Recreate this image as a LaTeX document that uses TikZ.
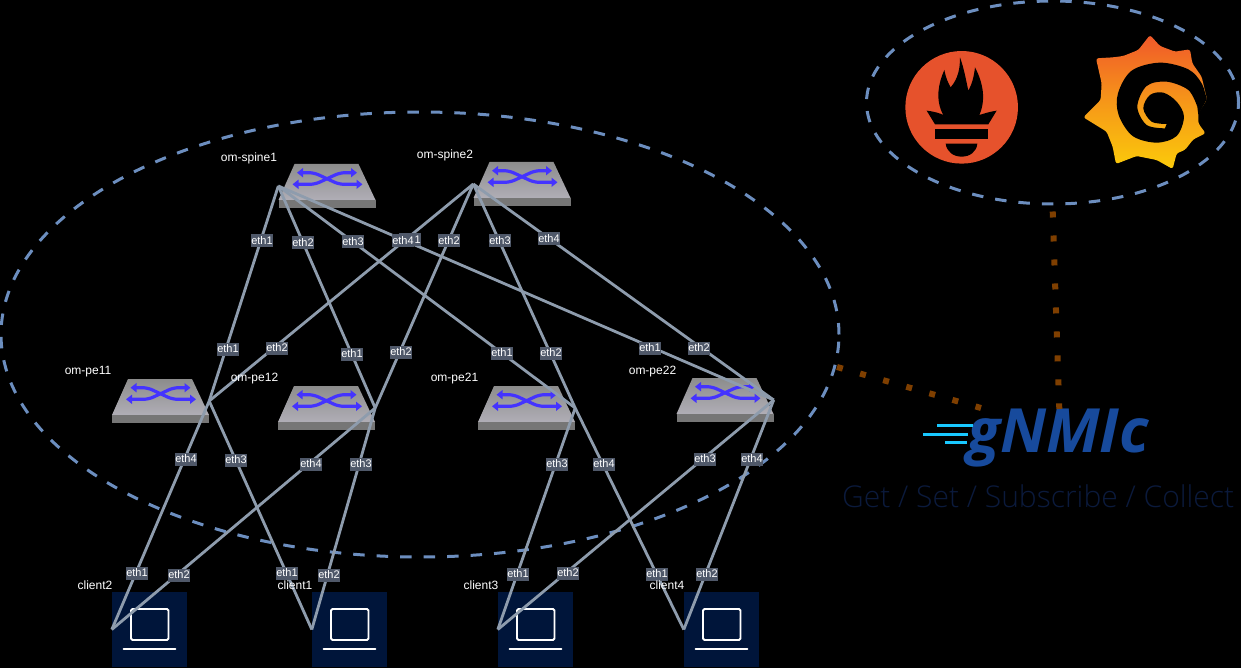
\documentclass[tikz,border=0pt]{standalone}
\usepackage{fontspec}
\setmainfont{Liberation Sans}
\newfontfamily\logofont{Open Sans}
\newfontfamily\tagfont{Open Sans Light}
\usetikzlibrary{shapes.geometric,arrows.meta}
\definecolor{dashblue}{HTML}{6C8EBF}
\definecolor{linkgrey}{HTML}{8E9CAD}
\definecolor{portbg}{HTML}{4F5869}
\definecolor{navy}{HTML}{00153A}
\definecolor{dotbrown}{HTML}{7F3F00}
\definecolor{swblue}{HTML}{4433FF}
\definecolor{promred}{HTML}{E6522C}
\definecolor{gnblue}{HTML}{174A9C}
\definecolor{gncyan}{HTML}{19C8FF}
\definecolor{tagnavy}{HTML}{0B1A3C}
\definecolor{graftop}{HTML}{F0582A}
\definecolor{grafbot}{HTML}{FBCB0A}
\definecolor{swtop}{HTML}{8C8C8C}
\definecolor{swbot}{HTML}{B0AEB6}
\definecolor{swfront}{HTML}{767676}
\tikzset{
  x=1pt,y=-1pt,
  zone/.style={draw=dashblue,line width=3pt,dash pattern=on 11.5pt off 12pt,ellipse,inner sep=0pt},
  link/.style={draw=linkgrey,line width=2.8pt},
  dots/.style={draw=dotbrown,line width=6pt,dash pattern=on 6pt off 18pt},
  portlabel/.style={fill=portbg,text=white,inner sep=0pt,minimum width=21pt,minimum height=13pt,font=\fontsize{11}{12}\selectfont},
  devname/.style={text=white,inner sep=0pt,font=\fontsize{12}{14}\selectfont},
  swnode/.style={minimum width=97pt,minimum height=44pt,inner sep=0pt},
  clnode/.style={fill=navy,minimum size=75pt,inner sep=0pt},
  swarrow/.style={draw=swblue,line width=3.2pt,rounded corners=5pt,{Triangle[length=6pt,width=9pt]}-{Triangle[length=6pt,width=9pt]}},
  laptop/.style={draw=white,line width=1.8pt}
}
\newcommand{\switchbox}[3]{%
  \node[swnode] (#1) at (#2,#3) {};
  \begin{scope}[shift={(#2,#3)}]
    \fill[top color=swtop,bottom color=swbot] (-32.5,-22) -- (31.5,-22) -- (48.5,14) -- (-48.5,14) -- cycle;
    \fill[swfront] (-48.5,14) rectangle (48.5,22);
    \draw[swarrow] (-30,-13.3) -- (-13,-13.3) -- (12,-1.7) -- (35.5,-1.7);
    \draw[swarrow] (-34.5,-1.7) -- (-12,-1.7) -- (13,-13.3) -- (30,-13.3);
  \end{scope}}
\newcommand{\clientbox}[2]{%
  \node[clnode] (#1) at (#2,629.5) {};
  \begin{scope}[shift={(#2,629.5)}]
    \draw[laptop,rounded corners=1.5pt] (-18.5,-20.5) rectangle (19,10.5);
    \draw[laptop,line cap=round] (-26,19.5) -- (26,19.5);
  \end{scope}}
\begin{document}
\begin{tikzpicture}
\useasboundingbox (0,0) rectangle (1241,668);
\fill[black] (0,0) rectangle (1241,668);
% zones
\node[zone,minimum width=838pt,minimum height=445pt] (fabric) at (420,334.5) {};
\node[zone,minimum width=372pt,minimum height=203pt] (monitor) at (1052.5,102.5) {};
% switches and clients
\switchbox{spine1}{327}{186}
\switchbox{spine2}{522}{184}
\switchbox{pe11}{160.5}{401}
\switchbox{pe12}{326.5}{408}
\switchbox{pe21}{526.5}{408}
\switchbox{pe22}{725}{400}
\clientbox{client2}{149.5}
\clientbox{client1}{349.5}
\clientbox{client3}{535.5}
\clientbox{client4}{721.5}
% links
\foreach \a/\b in {spine1.west/pe11.east,spine1.west/pe12.east,spine1.west/pe21.east,spine1.west/pe22.east,
  spine2.west/pe11.east,spine2.west/pe12.east,spine2.west/pe21.east,spine2.west/pe22.east,
  pe11.east/client1.west,pe11.east/client2.west,pe12.east/client1.west,pe12.east/client2.west,
  pe21.east/client3.west,pe21.east/client4.west,pe22.east/client3.west,pe22.east/client4.west}
  \draw[link] (\a) -- (\b);
% port labels
\foreach \x/\y/\t [count=\n] in {262/241/eth1,303/243/eth2,353/242/eth3,410/240/eth1,403/241/eth4,449/241/eth2,500/241/eth3,549/239/eth4,
  228/349/eth1,277/348/eth2,352/354/eth1,401/352/eth2,502/353/eth1,551/353/eth2,650/348/eth1,699/348/eth2,
  186/459/eth4,236/460/eth3,311/464/eth4,361/464/eth3,557/464/eth3,604/464/eth4,705/459/eth3,752/459/eth4,
  137/573/eth1,179/575/eth2,287/573/eth1,329/575/eth2,518/574/eth1,568/573/eth2,657/574/eth1,707/574/eth2}
  \node[portlabel] (port\n) at (\x,\y) {\t};
% device names
\node[devname] (nspine1) at (249,158) {om-spine1};
\node[devname] (nspine2) at (445,155) {om-spine2};
\node[devname] (npe11) at (88,372) {om-pe11};
\node[devname] (npe12) at (254.5,379) {om-pe12};
\node[devname] (npe21) at (454.5,379) {om-pe21};
\node[devname] (npe22) at (652.5,372) {om-pe22};
\node[devname] (nclient2) at (95,585) {client2};
\node[devname] (nclient1) at (295,585) {client1};
\node[devname] (nclient3) at (481,585) {client3};
\node[devname] (nclient4) at (667,585) {client4};
% prometheus logo
\begin{scope}[shift={(860,0)},x=0.3333pt,y=-0.3333pt]
  \fill[promred] (305,322) circle (56.3pt);
  \fill[black] (200,332) .. controls (225,335) and (240,340) .. (250,345)
    .. controls (225,300) and (235,250) .. (253,210)
    .. controls (258,235) and (265,250) .. (272,262)
    .. controls (295,235) and (300,205) .. (300,172)
    .. controls (312,205) and (318,240) .. (325,272)
    .. controls (335,255) and (342,230) .. (345,202)
    .. controls (370,250) and (378,300) .. (358,345)
    .. controls (375,340) and (390,335) .. (410,332)
    -- (385,373) -- (225,373) -- cycle;
  \fill[black] (225,388) rectangle (385,417);
  \fill[black] (257,431) -- (352,431) .. controls (350,455) and (330,470) .. (305,470)
    .. controls (280,470) and (260,455) .. (257,431) -- cycle;
% grafana logo
  \fill[top color=graftop,bottom color=grafbot,middle color=graftop!45!grafbot,rounded corners=2.5pt]
    (870,105) -- (900,138) -- (945,155) -- (990,148) -- (997,190) -- (1025,230) -- (1041,298)
    -- (1015,340) -- (1015,370) -- (1037,400) -- (1000,418) -- (975,450) -- (950,460) -- (938,507)
    -- (890,480) -- (830,468) -- (768,492) -- (758,440) -- (740,395) -- (670,352) -- (722,300)
    -- (725,250) -- (708,175) -- (760,172) -- (790,168) -- (835,150) -- cycle;
  \fill[black] plot[smooth,tension=0.55] coordinates {(1040,298) (1025,250) (985,208) (900,188) (815,212) (774,280) (776,345) (818,408) (890,428) (950,408) (972,350) (950,305) (910,278) (870,285) (850,325) (875,365) (920,372)}
    -- (915,385) -- plot[smooth,tension=0.55] coordinates {(915,385) (860,375) (832,320) (860,258) (920,245) (985,270) (1012,320)} -- (1015,345) -- cycle;
\end{scope}
% gnmic logo
\node[anchor=base west,inner sep=0pt,text=gnblue,font=\logofont\fontsize{61}{63}\selectfont\bfseries\itshape] (gnmic) at (967,452) {gNMIc};
\draw[gncyan,line width=2.7pt] (937,425.7) -- (973,425.7);
\draw[gncyan,line width=2.7pt] (923,434.7) -- (968,434.7);
\draw[gncyan,line width=2.7pt] (945,442.3) -- (967,442.3);
\node[anchor=base west,inner sep=0pt,text=tagnavy,font=\tagfont\fontsize{30}{34}\selectfont] (tagline) at (842,507) {Get / Set / Subscribe / Collect};
% telemetry links
\coordinate (fabricEdge) at (837,367);
\coordinate (gnmicLeft) at (981,408);
\coordinate (gnmicTop) at (1059.3,409);
\draw[dots] (fabricEdge) -- (gnmicLeft);
\draw[dots,dash phase=18pt] (monitor.south) -- (gnmicTop);
\end{tikzpicture}
\end{document}
